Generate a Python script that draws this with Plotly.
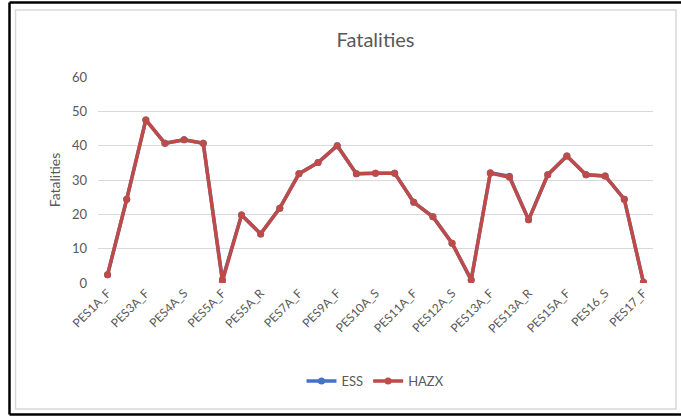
import plotly.graph_objects as go

# ---- data ----
tick_labels = ["PES1A_F", "PES3A_F", "PES4A_S", "PES5A_F", "PES5A_R", "PES7A_F",
               "PES9A_F", "PES10A_S", "PES11A_F", "PES12A_S", "PES13A_F", "PES13A_R",
               "PES15A_F", "PES16_S", "PES17_F"]
hazx = [2.4, 24.4, 47.5, 40.7, 41.7, 40.7, 0.5, 19.8, 14.3, 21.8, 31.8, 35.1, 40.0, 31.8,
        32.0, 32.0, 23.5, 19.3, 11.6, 0.9, 32.0, 30.8, 18.4, 31.5, 37.0, 31.5, 31.2, 24.4, 0.2]
ess = [2.4, 24.4, 47.5, 40.7, 41.7, 40.7, 1.0, 19.8, 14.3, 21.8, 31.8, 35.1, 40.0, 31.8,
       32.0, 32.0, 23.5, 19.3, 11.6, 0.9, 32.1, 31.1, 18.4, 31.5, 37.0, 31.5, 31.2, 24.4, 0.2]

x = list(range(len(hazx)))
tick_pos = x[::2]

BLUE = "#4472C4"
RED = "#BE4B48"
TXT = "#595959"
FONT = "Lato, 'Open Sans', sans-serif"

fig = go.Figure()
fig.add_trace(go.Scatter(x=x, y=ess, name="ESS", mode="lines+markers",
                         line=dict(color=BLUE, width=3.5), marker=dict(size=7, color=BLUE)))
fig.add_trace(go.Scatter(x=x, y=hazx, name="HAZX", mode="lines+markers",
                         line=dict(color=RED, width=3.5), marker=dict(size=7, color=RED)))

L, R, T, B = 98, 28, 77, 133
W, H = 681, 416
pw, ph = W - L - R, H - T - B

def px_x(p):
    return (p - L) / pw

def px_y(p):
    return (H - B - p) / ph

shapes = [
    dict(type="rect", xref="paper", yref="paper",
         x0=px_x(15.5), x1=px_x(676), y0=px_y(409), y1=px_y(10),
         line=dict(color="#D9D9D9", width=1.5), fillcolor="rgba(0,0,0,0)", layer="below"),
    dict(type="line", xref="paper", yref="paper",
         x0=px_x(9.5), x1=px_x(9.5), y0=px_y(414.5), y1=px_y(2.5),
         line=dict(color="black", width=2.5)),
    dict(type="line", xref="paper", yref="paper",
         x0=px_x(9.5), x1=px_x(690), y0=px_y(2.5), y1=px_y(2.5),
         line=dict(color="black", width=2.5)),
    dict(type="line", xref="paper", yref="paper",
         x0=px_x(9.5), x1=px_x(690), y0=px_y(414.5), y1=px_y(414.5),
         line=dict(color="black", width=2.5)),
]

fig.update_layout(
    width=W, height=H,
    margin=dict(l=L, r=R, t=T, b=B, autoexpand=False),
    paper_bgcolor="white", plot_bgcolor="white",
    font=dict(family=FONT, color=TXT),
    title=dict(text="Fatalities", x=0.5, xref="paper", xanchor="center",
               y=1 - 40 / H, yanchor="middle", font=dict(size=20, color=TXT, family=FONT)),
    showlegend=True,
    legend=dict(orientation="h", x=0.5, xanchor="center", y=px_y(381), yanchor="middle",
                font=dict(size=13, color=TXT), traceorder="normal"),
    shapes=shapes,
)
fig.update_xaxes(range=[-0.5, len(hazx) - 0.5], tickmode="array", tickvals=tick_pos,
                 ticktext=tick_labels, tickangle=-45, showgrid=False, zeroline=False,
                 showline=False, ticks="", tickfont=dict(size=12, color=TXT))
fig.update_yaxes(range=[0, 60], dtick=10, showgrid=True, gridcolor="#D9D9D9", gridwidth=1,
                 zeroline=False, showline=False, ticks="", ticklabelstandoff=10,
                 tickfont=dict(size=13, color=TXT),
                 title=dict(text="Fatalities", font=dict(size=14, color=TXT), standoff=8))

fig.write_html("out.html", config={"displayModeBar": False},
               post_script="document.body.style.margin='0';document.body.style.overflow='hidden';")
